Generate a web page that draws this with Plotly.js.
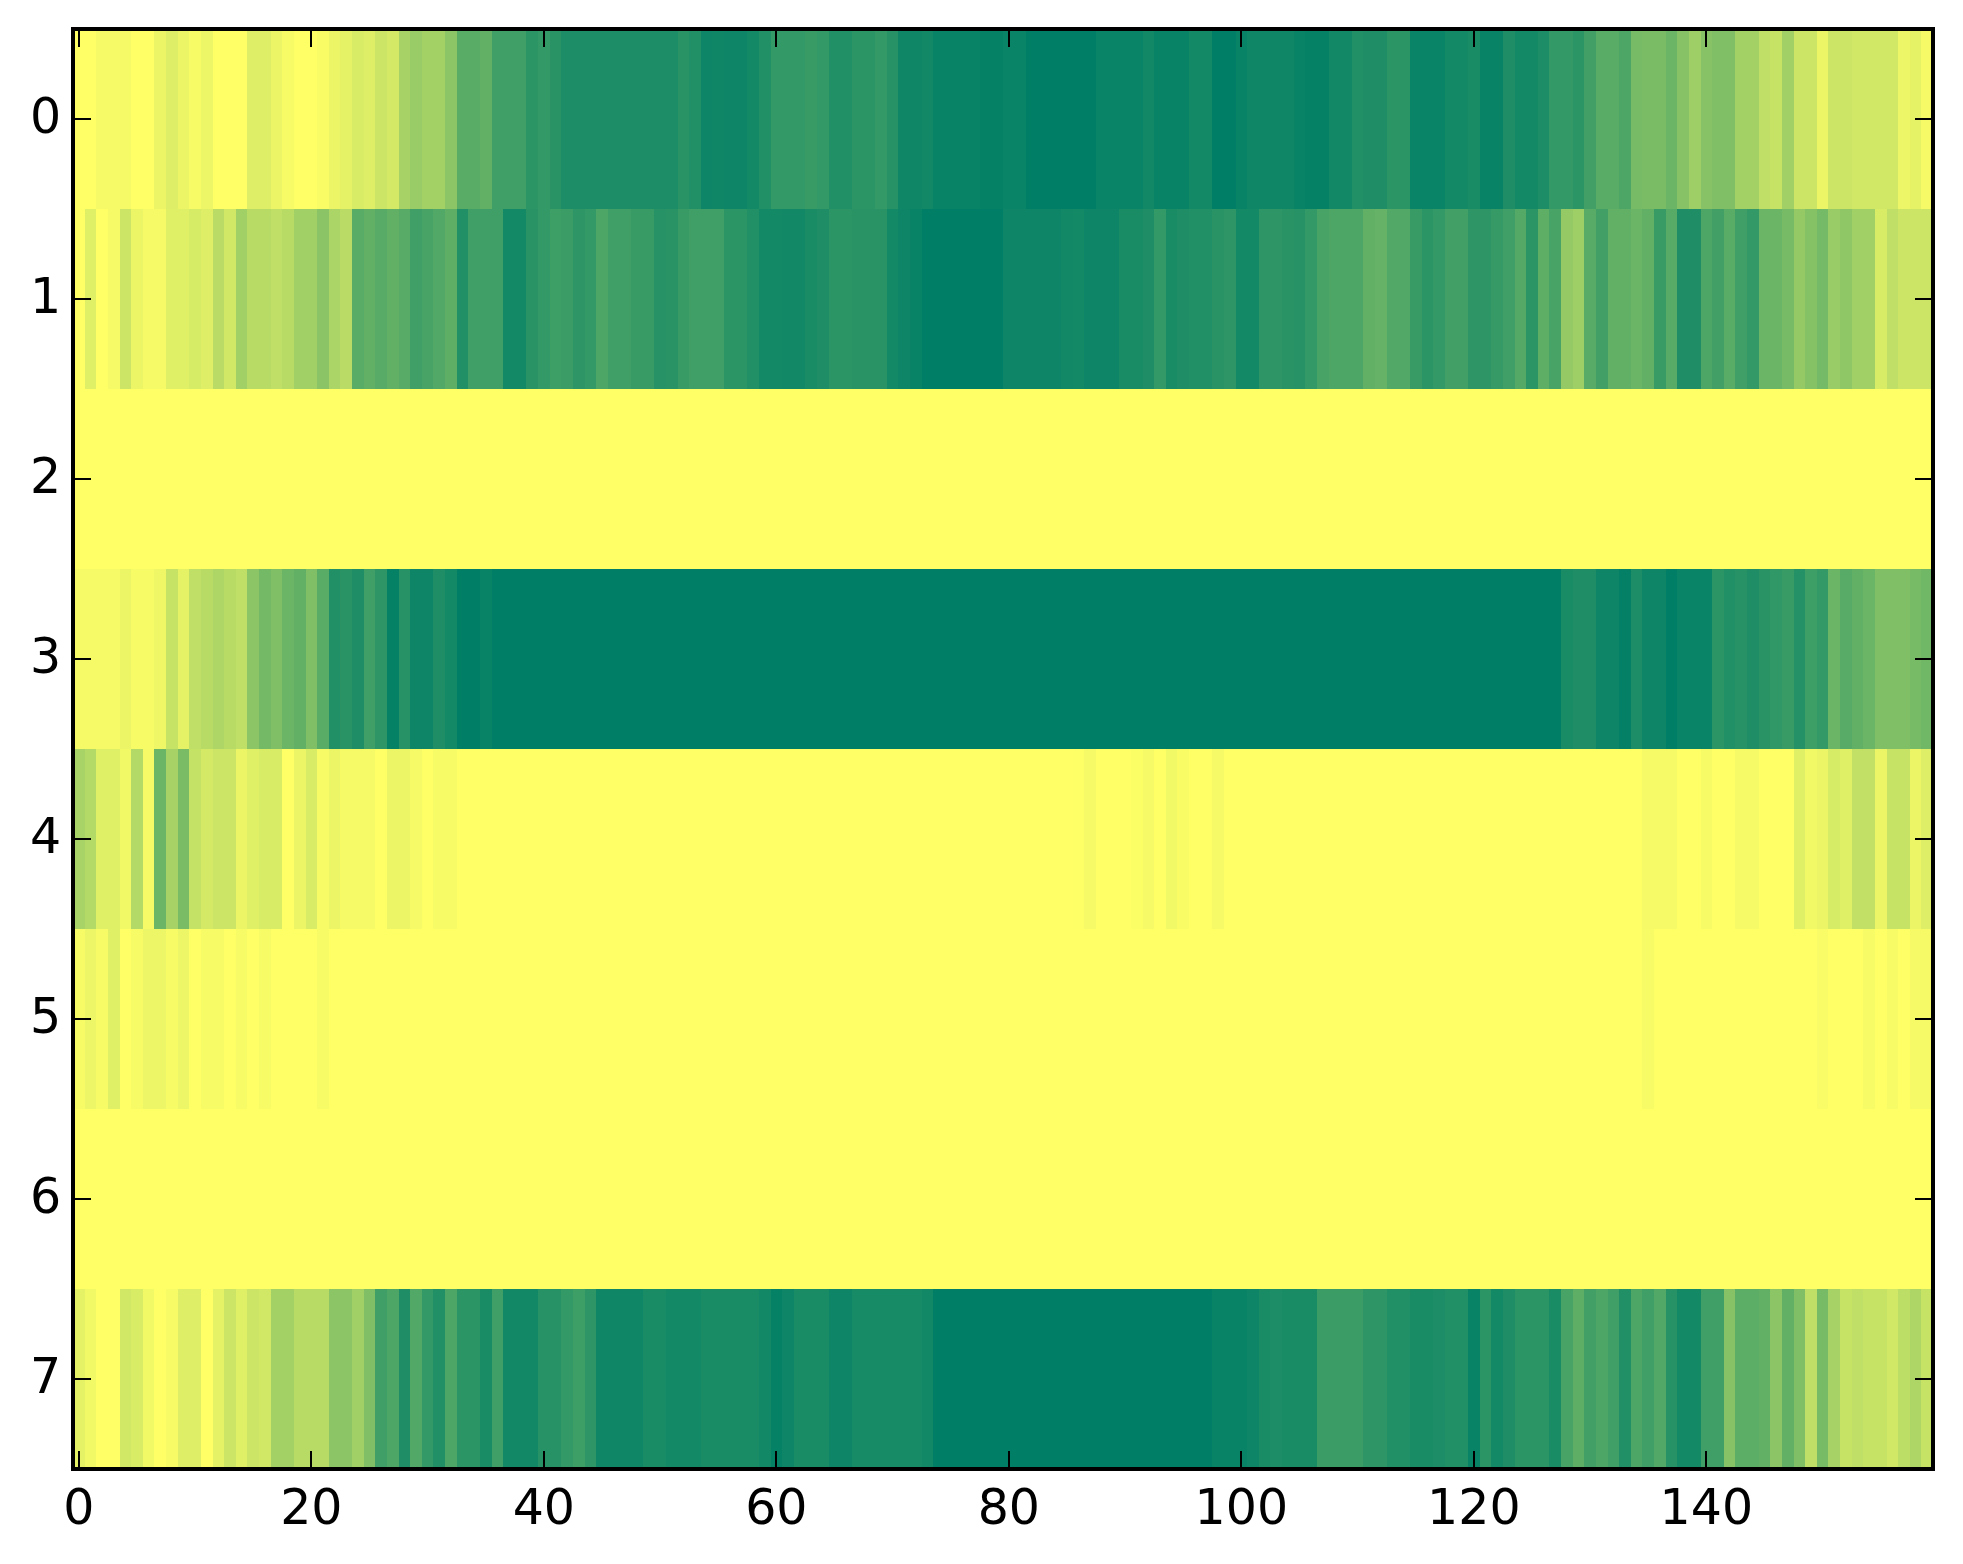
<!DOCTYPE html>
<html>
<head>
<meta charset="utf-8">
<script src="https://cdn.plot.ly/plotly-3.0.1.min.js"></script>
<style>html,body{margin:0;padding:0;background:#fff}</style>
</head>
<body>
<div id="chart" style="width:1963px;height:1564px"></div>
<script>
const row0 = [
0,0,.04,.04,.04,0,0,.08,.13,.08,
.03,.07,0,0,0,.13,.13,.08,.03,0,
0,.02,.08,.1,.15,.13,.2,.17,.35,.4,
.36,.36,.45,.65,.65,.62,.75,.75,.75,.83,
.8,.84,.89,.89,.89,.89,.89,.89,.89,.89,
.89,.89,.84,.87,.95,.94,.95,.95,.92,.87,
.8,.8,.8,.78,.8,.87,.87,.83,.83,.8,
.85,.94,.94,.93,.97,.97,.97,.97,.98,.98,
.96,.96,1,1,1,1,1,1,.96,.96,
.96,.96,.93,.97,.97,.97,.92,.92,1,1,
.97,.94,.94,.94,.94,.97,.98,.98,.93,.93,
.87,.88,.88,.83,.83,.96,.96,.96,.92,.92,
.9,.97,.97,.88,.92,.92,.89,.8,.8,.83,
.74,.65,.65,.7,.53,.52,.52,.58,.47,.38,
.47,.5,.5,.36,.36,.25,.22,.37,.2,.2,
.08,.2,.2,.18,.18,.18,.18,.07,.1,.04];
const row1 = [
0,.12,0,.04,.2,.08,.04,.04,.12,.12,
.16,.13,.27,.18,.37,.28,.28,.25,.28,.37,
.37,.46,.33,.27,.65,.62,.66,.62,.66,.75,
.72,.68,.63,.87,.75,.75,.75,.92,.92,.84,
.8,.76,.77,.82,.8,.7,.75,.75,.78,.78,
.85,.84,.78,.75,.75,.75,.83,.83,.87,.92,
.92,.93,.93,.9,.88,.83,.83,.84,.84,.84,
.92,.95,.97,1,1,1,1,1,1,1,
.95,.95,.95,.95,.95,.93,.92,.95,.95,.95,
.9,.9,.88,.8,.9,.88,.87,.87,.84,.82,
.92,.92,.82,.82,.84,.85,.8,.72,.7,.7,
.7,.62,.6,.68,.68,.78,.83,.8,.74,.74,
.82,.82,.79,.75,.67,.83,.63,.72,.42,.38,
.66,.74,.62,.62,.58,.62,.78,.66,.88,.88,
.7,.74,.65,.75,.8,.58,.58,.53,.42,.48,
.54,.4,.44,.37,.37,.15,.25,.2,.2,.2];
const row2 = [
0,0,0,0,0,0,0,0,0,0, 0,0,0,0,0,0,0,0,0,0, 0,0,0,0,0,0,0,0,0,0, 0,0,0,0,0,0,0,0,0,0,
0,0,0,0,0,0,0,0,0,0, 0,0,0,0,0,0,0,0,0,0, 0,0,0,0,0,0,0,0,0,0, 0,0,0,0,0,0,0,0,0,0,
0,0,0,0,0,0,0,0,0,0, 0,0,0,0,0,0,0,0,0,0, 0,0,0,0,0,0,0,0,0,0, 0,0,0,0,0,0,0,0,0,0,
0,0,0,0,0,0,0,0,0,0, 0,0,0,0,0,0,0,0,0,0, 0,0,0,0,0,0,0,0,0,0, 0,0,0,0,0,0,0,0,0,0];
const row3 = [
.04,.04,.04,.04,.08,.03,.03,.06,.22,.1,
.25,.28,.32,.28,.25,.45,.55,.5,.58,.62,
.5,.65,.87,.84,.88,.75,.82,.98,.85,.95,
.95,.88,.92,1,1,.97,1,1,1,1,
1,1,1,1,1,1,1,1,1,1,
1,1,1,1,1,1,1,1,1,1,
1,1,1,1,1,1,1,1,1,1,
1,1,1,1,1,1,1,1,1,1,
1,1,1,1,1,1,1,1,1,1,
1,1,1,1,1,1,1,1,1,1,
1,1,1,1,1,1,1,1,1,1,
1,1,1,1,1,1,1,1,1,1,
1,1,1,1,1,1,1,1,.9,.88,
.88,.95,.95,.99,.89,.95,.95,1,.96,.96,
.96,.83,.87,.85,.88,.84,.81,.78,.86,.76,
.8,.58,.66,.62,.58,.5,.5,.5,.53,.56];
const row4 = [
.34,.3,.12,.12,.05,.3,.04,.58,.35,.52,
.23,.17,.2,.2,.08,.12,.15,.15,0,.08,
.15,.03,.08,.04,.04,.04,0,.08,.08,.04,
0,.03,.03,0,0,0,0,0,0,0,
0,0,0,0,0,0,0,0,0,0,
0,0,0,0,0,0,0,0,0,0,
0,0,0,0,0,0,0,0,0,0,
0,0,0,0,0,0,0,0,0,0,
0,0,0,0,0,0,.005,.04,0,0,
0,.01,.04,0,.05,.02,0,0,.04,0,
0,0,0,0,0,0,0,0,0,0,
0,0,0,0,0,0,0,0,0,0,
0,0,0,0,0,0,0,0,0,0,
0,0,0,0,0,.04,.04,.04,0,0,
.03,0,0,.04,.04,0,0,0,.12,.05,
.08,.16,.12,.24,.24,.08,.22,.22,.08,.13];
const row5 = [
.03,.07,.03,.12,0,.03,.07,.07,.03,.07,
0,.03,.03,0,.03,0,.03,0,0,0,
0,.03,0,0,0,0,0,0,0,0,
0,0,0,0,0,0,0,0,0,0,
0,0,0,0,0,0,0,0,0,0,
0,0,0,0,0,0,0,0,0,0,
0,0,0,0,0,0,0,0,0,0,
0,0,0,0,0,0,0,0,0,0,
0,0,0,0,0,0,0,0,0,0,
0,0,0,0,0,0,0,0,0,0,
0,0,0,0,0,0,0,0,0,0,
0,0,0,0,0,0,0,0,0,0,
0,0,0,0,0,0,0,0,0,0,
0,0,0,0,0,.03,0,0,0,0,
0,0,0,0,0,0,0,0,0,0,
.025,0,0,0,.03,0,.03,0,.04,.04];
const row6 = [
0,0,0,0,0,0,0,0,0,0, 0,0,0,0,0,0,0,0,0,0, 0,0,0,0,0,0,0,0,0,0, 0,0,0,0,0,0,0,0,0,0,
0,0,0,0,0,0,0,0,0,0, 0,0,0,0,0,0,0,0,0,0, 0,0,0,0,0,0,0,0,0,0, 0,0,0,0,0,0,0,0,0,0,
0,0,0,0,0,0,0,0,0,0, 0,0,0,0,0,0,0,0,0,0, 0,0,0,0,0,0,0,0,0,0, 0,0,0,0,0,0,0,0,0,0,
0,0,0,0,0,0,0,0,0,0, 0,0,0,0,0,0,0,0,0,0, 0,0,0,0,0,0,0,0,0,0, 0,0,0,0,0,0,0,0,0,0];
const row7 = [
.1,.05,0,0,.18,.15,.05,0,.03,.13,
.13,0,.1,.2,.12,.2,.18,.36,.36,.28,
.28,.28,.45,.45,.37,.5,.75,.7,.88,.68,
.8,.87,.7,.83,.83,.9,.75,.93,.93,.93,
.85,.85,.8,.76,.82,.94,.94,.94,.94,.9,
.9,.92,.92,.92,.9,.9,.9,.9,.9,.93,
.98,.95,.9,.9,.9,.95,.95,.91,.91,.91,
.91,.91,.91,.93,1,1,1,1,1,1,
1,1,1,1,1,1,1,1,1,1,
1,1,1,1,1,1,1,1,.97,.97,
.97,.95,.9,.89,.9,.9,.9,.77,.77,.77,
.77,.82,.82,.87,.87,.9,.9,.89,.87,.87,
.97,.83,.92,.88,.83,.83,.83,.9,.72,.63,
.74,.7,.75,.87,.7,.75,.68,.85,.92,.92,
.75,.75,.47,.64,.64,.62,.45,.62,.5,.25,
.53,.35,.22,.25,.22,.22,.18,.26,.32,.22];

const xTicks = [0, 20, 40, 60, 80, 100, 120, 140];
const yTicks = [0, 1, 2, 3, 4, 5, 6, 7];
const colorLow = 'rgb(255,255,102)';
const colorHigh = 'rgb(0,127,102)';

const axisCommon = {
  showgrid: false, zeroline: false, showline: true, linecolor: '#000', linewidth: 4,
  mirror: 'all', ticks: 'inside', ticklen: 16, tickwidth: 2, tickcolor: '#000',
  tickfont: {family: '"DejaVu Sans", sans-serif', size: 49, color: '#000'},
  tickmode: 'array'
};

Plotly.newPlot('chart', [{
  type: 'heatmap',
  z: [row0, row1, row2, row3, row4, row5, row6, row7],
  zmin: 0, zmax: 1, zsmooth: false, showscale: false,
  colorscale: [[0, colorLow], [1, colorHigh]],
  hoverinfo: 'skip'
}], {
  width: 1963, height: 1564,
  margin: {l: 75, r: 32, t: 31, b: 97, pad: 0},
  paper_bgcolor: '#fff', plot_bgcolor: '#fff',
  xaxis: Object.assign({}, axisCommon, {
    range: [-0.328, 159.328], tickvals: xTicks, ticktext: xTicks.map(String),
    ticklabelstandoff: -6
  }),
  yaxis: Object.assign({}, axisCommon, {
    range: [7.489, -0.489], tickvals: yTicks, ticktext: yTicks.map(String),
    ticklabelstandoff: 0, ticklabelshift: 3
  }),
  showlegend: false
}, {displayModeBar: false, staticPlot: true});
</script>
</body>
</html>
